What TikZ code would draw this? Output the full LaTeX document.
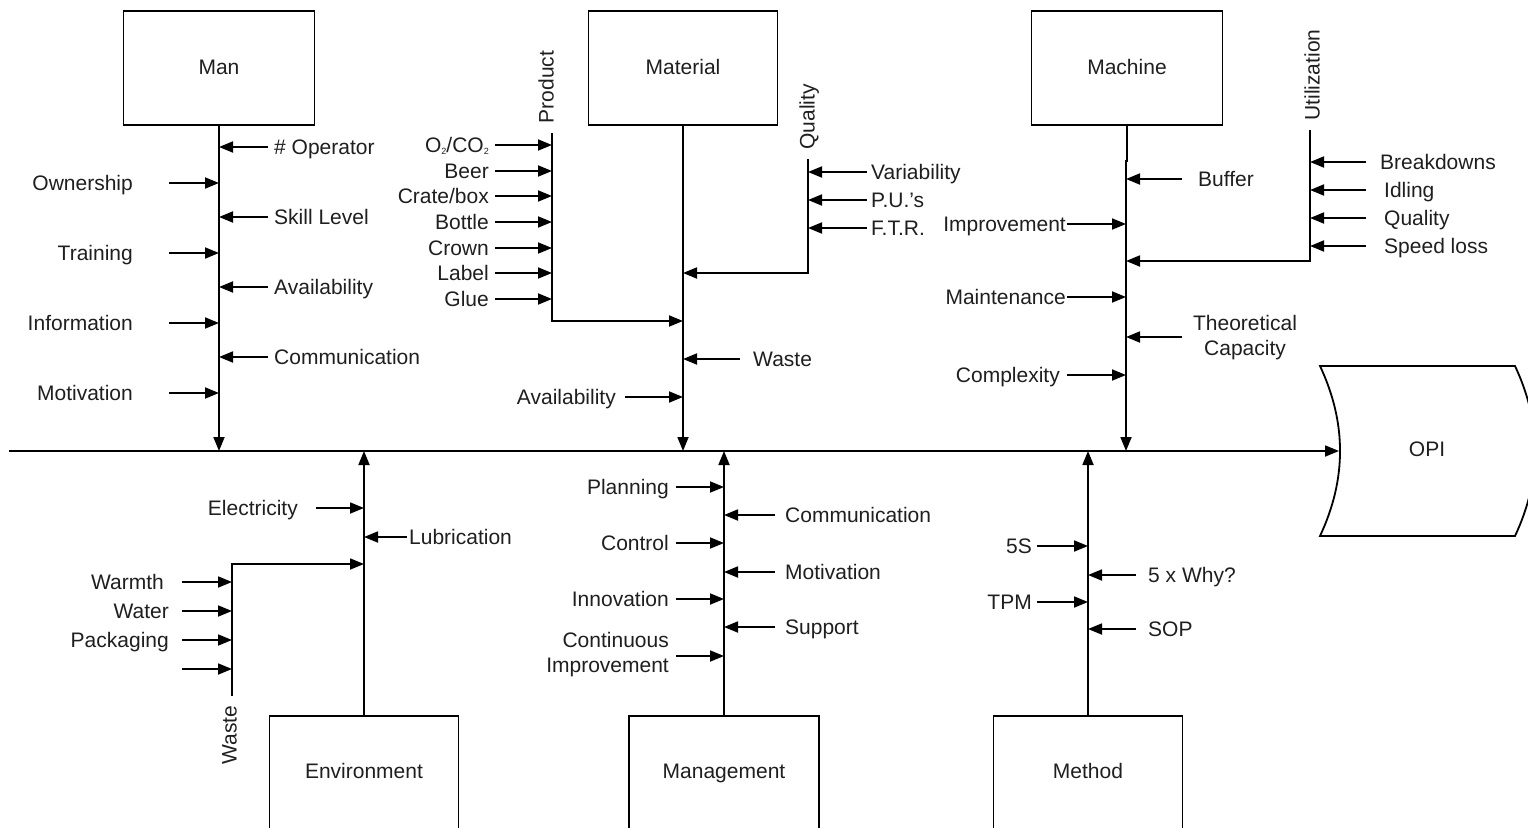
\documentclass[tikz,border=0pt]{standalone}
\usepackage{fontspec}
\setmainfont{Liberation Sans}
\usetikzlibrary{arrows.meta}
\definecolor{txt}{rgb}{0.12,0.12,0.12}
\newcommand\fsz{\fontsize{21}{25}\selectfont}
\newcommand\smallsub[1]{\raisebox{-2pt}{\fontsize{9}{9}\selectfont #1}}
% cause arrow pointing right into a stem: name, label right x, arrow start x, stem x, y, text
\newcommand\incause[6]{%
  \coordinate (#1-a) at (#3,#5);
  \coordinate (#1-b) at (#4,#5);
  \node[lbl,anchor=east] (#1) at (#2,#5) {#6};
  \draw[cause] (#1-a) -- (#1-b);}
% cause arrow pointing left into a stem: name, label left x, arrow start x, stem x, y, text
\newcommand\outcause[6]{%
  \coordinate (#1-a) at (#3,#5);
  \coordinate (#1-b) at (#4,#5);
  \node[lbl,anchor=west] (#1) at (#2,#5) {#6};
  \draw[cause] (#1-a) -- (#1-b);}
\begin{document}
\begin{tikzpicture}[x=1pt,y=-1pt,
  lbl/.style={inner sep=0pt, text height=15pt, text depth=0pt, font=\fsz, text=txt},
  lblm/.style={inner sep=0pt, font=\fsz, text=txt},
  box/.style={draw, line width=1.8pt, inner sep=0pt, font=\fsz, text=txt,
              text height=15pt, text depth=0pt},
  lowbox/.style={box, minimum height=120pt, text depth=10pt},
  cause/.style={line width=1.8pt, -{Triangle[length=14pt,width=11pt]}},
  stem/.style={line width=1.8pt, -{Triangle[length=14pt,width=11pt]}}]
\fill[white] (0,0) rectangle (1528,827);
\useasboundingbox (0,0) rectangle (1528,827);

% main spine and effect
\coordinate (spineL) at (9,451);
\coordinate (opiIn) at (1339,451);
\draw[stem] (spineL) -- (opiIn);
\draw[line width=1.8pt] (1320,366) -- (1515,366)
  .. controls (1541.7,423) and (1541.7,479) .. (1515,536) -- (1320,536)
  .. controls (1346.7,479) and (1346.7,423) .. (1320,366) -- cycle;
\node[lbl] (opi) at (1427,449) {OPI};

% category boxes
\node[box, minimum width=191pt, minimum height=114pt, text depth=3pt] (man) at (219,68) {Man};
\node[box, minimum width=189pt, minimum height=114pt, text depth=3pt] (material) at (683,68) {Material};
\node[box, minimum width=191pt, minimum height=114pt, text depth=3pt] (machine) at (1127,68) {Machine};
\node[lowbox, minimum width=189pt] (environment) at (364,776) {Environment};
\node[lowbox, minimum width=190pt] (management) at (724,776) {Management};
\node[lowbox, minimum width=189pt] (method) at (1088,776) {Method};

% bones
\draw[stem] (man.south) -- (man.south |- spineL);
\draw[stem] (material.south) -- (material.south |- spineL);
\coordinate (mjog) at (1126,161);
\draw[stem] (machine.south) |- (mjog) -- (mjog |- spineL);
\draw[stem] (environment.north) -- (environment.north |- spineL);
\draw[stem] (management.north) -- (management.north |- spineL);
\draw[stem] (method.north) -- (method.north |- spineL);

% Man
\incause{own}{133}{169}{219}{183}{Ownership}
\incause{train}{133}{169}{219}{253}{Training}
\incause{info}{133}{169}{219}{323}{Information}
\incause{motiv}{133}{169}{219}{393}{Motivation}
\outcause{oper}{274}{268}{219}{147}{\# Operator}
\outcause{skill}{274}{268}{219}{217}{Skill Level}
\outcause{avail}{274}{268}{219}{287}{Availability}
\outcause{comm}{274}{268}{219}{357}{Communication}

% Material: product
\node[lbl, rotate=90] (product) at (546,87) {Product};
\coordinate (prodTop) at (552,133);
\coordinate (prodJoin) at (683,321);
\draw[stem] (prodTop) |- (prodJoin);
\incause{o2}{489}{495}{552}{145}{O\smallsub{2}/CO\smallsub{2}}
\incause{beer}{489}{495}{552}{171}{Beer}
\incause{crate}{489}{495}{552}{196}{Crate/box}
\incause{bottle}{489}{495}{552}{222}{Bottle}
\incause{crown}{489}{495}{552}{248}{Crown}
\incause{label}{489}{495}{552}{273}{Label}
\incause{glue}{489}{495}{552}{299}{Glue}
% Material: quality
\node[lbl, rotate=90] (quality) at (807,117) {Quality};
\coordinate (qualTop) at (808,159);
\coordinate (qualJoin) at (683,273);
\draw[stem] (qualTop) |- (qualJoin);
\outcause{var}{871}{867}{808}{172}{Variability}
\outcause{pus}{871}{867}{808}{200}{P.U.'s}
\outcause{ftr}{871}{867}{808}{228}{F.T.R.}
\outcause{waste}{753}{740}{683}{359}{Waste}
\incause{mavail}{616}{625}{683}{397}{Availability}

% Machine
\outcause{buffer}{1198}{1182}{1126}{179}{Buffer}
\incause{improve}{1066}{1067}{1126}{224}{Improvement}
\node[lbl, rotate=90] (util) at (1312,75) {Utilization};
\coordinate (utilTop) at (1310,130);
\coordinate (utilJoin) at (1126,261);
\draw[stem] (utilTop) |- (utilJoin);
\outcause{brk}{1380}{1366}{1310}{162}{Breakdowns}
\outcause{idle}{1384}{1366}{1310}{190}{Idling}
\outcause{mqual}{1384}{1366}{1310}{218}{Quality}
\outcause{speed}{1384}{1366}{1310}{246}{Speed loss}
\incause{maint}{1066}{1067}{1126}{297}{Maintenance}
\coordinate (theoA) at (1182,337);
\coordinate (theoB) at (1126,337);
\draw[cause] (theoA) -- (theoB);
\node[lblm, align=center] (theo) at (1245,337.6) {Theoretical\\Capacity};
\incause{complex}{1060}{1067}{1126}{375}{Complexity}

% Environment
\incause{elec}{298}{316}{364}{508}{Electricity}
\outcause{lube}{409}{407}{364}{537}{Lubrication}
\coordinate (wasteBot) at (232,696);
\coordinate (wasteJoin) at (364,564);
\draw[stem] (wasteBot) |- (wasteJoin);
\node[lbl, rotate=90] (ewaste) at (229,735) {Waste};
\incause{warmth}{164}{182}{232}{582}{Warmth}
\incause{water}{169}{182}{232}{611}{Water}
\incause{pack}{169}{182}{232}{640}{Packaging}
\coordinate (blankA) at (182,669);
\coordinate (blankB) at (232,669);
\draw[cause] (blankA) -- (blankB);

% Management
\incause{plan}{669}{676}{724}{487}{Planning}
\outcause{mcomm}{785}{775}{724}{515}{Communication}
\incause{control}{669}{676}{724}{543}{Control}
\outcause{mmotiv}{785}{775}{724}{572}{Motivation}
\incause{innov}{669}{676}{724}{599}{Innovation}
\outcause{support}{785}{775}{724}{627}{Support}
\coordinate (ciA) at (676,656);
\coordinate (ciB) at (724,656);
\draw[cause] (ciA) -- (ciB);
\node[lblm, align=right, anchor=east] (ci) at (669,654.6) {Continuous\\Improvement};

% Method
\incause{fives}{1032}{1037}{1088}{546}{5S}
\outcause{why}{1148}{1136}{1088}{575}{5 x Why?}
\incause{tpm}{1032}{1037}{1088}{602}{TPM}
\outcause{sop}{1148}{1136}{1088}{629}{SOP}
\end{tikzpicture}
\end{document}
